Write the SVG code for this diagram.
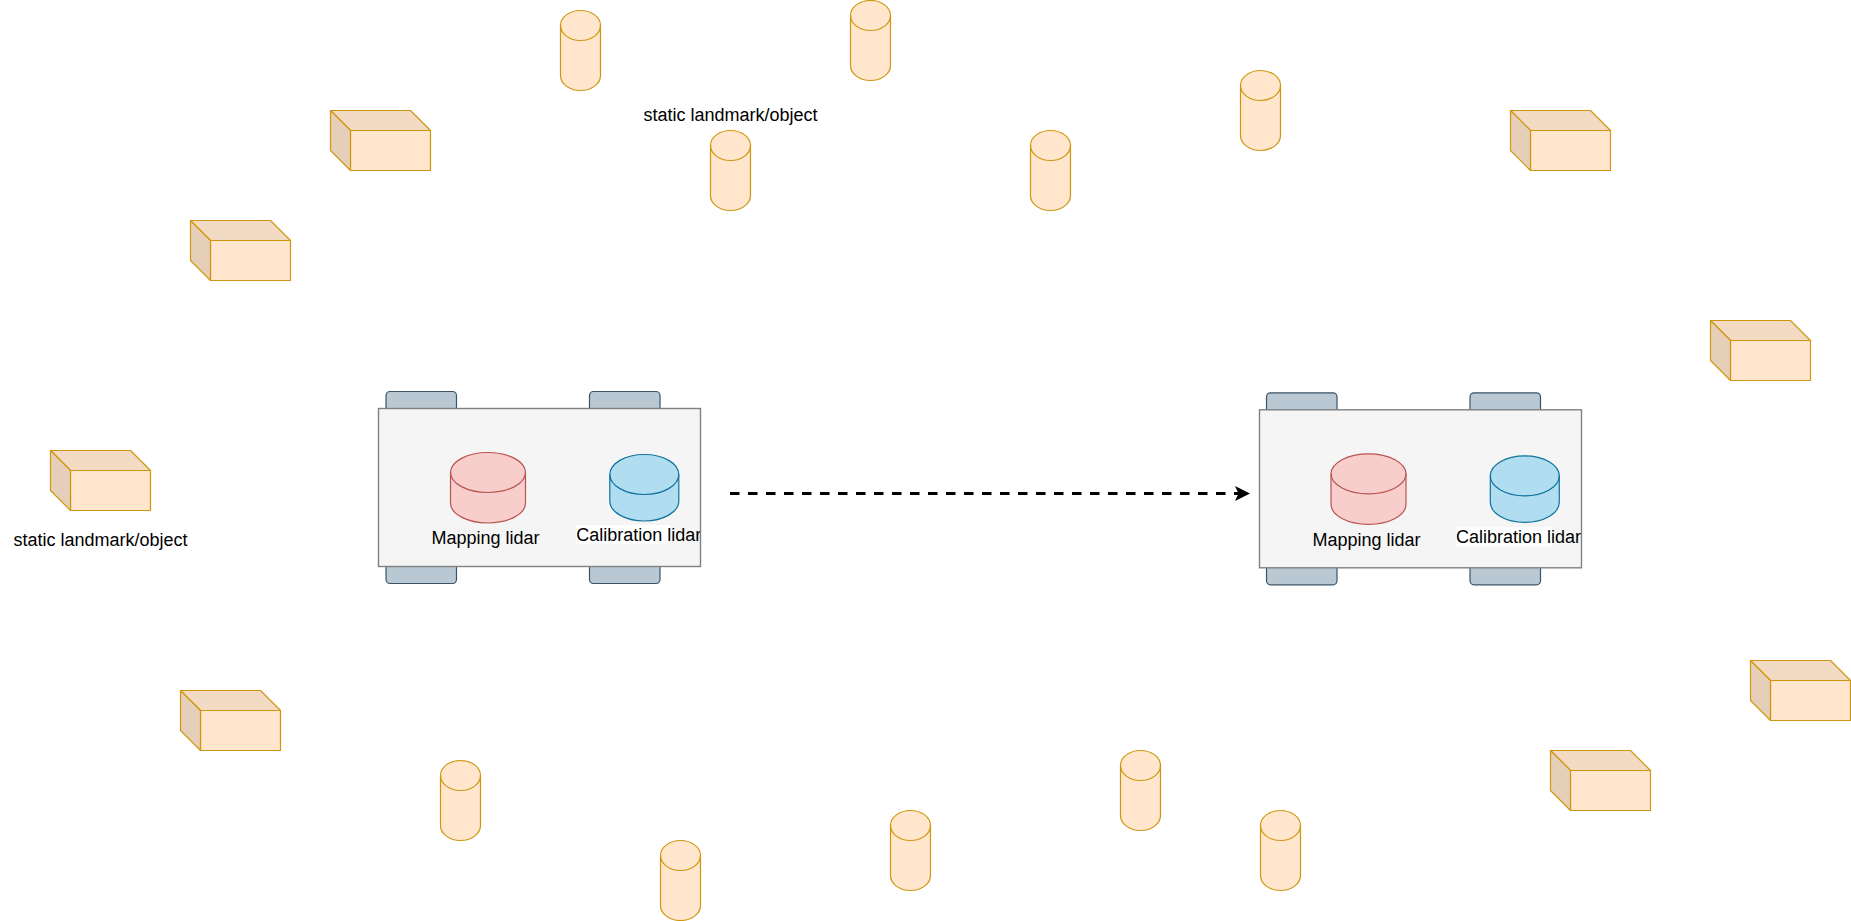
<svg xmlns="http://www.w3.org/2000/svg" width="1851" height="921" viewBox="0 0 1851 921">
<style>
text{font-family:"Liberation Sans",Arial,sans-serif;font-size:18px;fill:#000}
.o{fill:#ffe6cc;stroke:#cf9710;stroke-width:1.2;stroke-linejoin:round}
.ot{fill:#f2dbc2;stroke:#cf9710;stroke-width:1.2;stroke-linejoin:round}
.ol{fill:#e6cfb8;stroke:#cf9710;stroke-width:1.2;stroke-linejoin:round}
.wheel{fill:#bac8d3;stroke:#3a5568;stroke-width:1.2}
.body{fill:#f5f5f5;stroke:#808080;stroke-width:1.4}
.red{fill:#f8cecc;stroke:#b85450;stroke-width:1.2}
.blue{fill:#b1ddf0;stroke:#10739e;stroke-width:1.2}
.lbg{fill:#ffffff}
.arrow{fill:none;stroke:#000;stroke-width:3.2;stroke-dasharray:9.5 8.5}
</style>
<defs>
<g id="cyl">
<path class="o" d="M0 15A20 15 0 0 1 40 15V65A20 15 0 0 1 0 65Z"/>
<path class="o" style="fill:none" d="M0 15A20 15 0 0 0 40 15"/>
</g>
<g id="box">
<rect class="o" x="20" y="20" width="80" height="40"/>
<path class="ot" d="M0 0H80L100 20H20Z"/>
<path class="ol" d="M0 0L20 20V60L0 40Z"/>
</g>
<g id="wheels">
<rect class="wheel" x="7.500" y="-17" width="70.500" height="40" rx="4"/>
<rect class="wheel" x="211" y="-17" width="70.500" height="40" rx="4"/>
<rect class="wheel" x="7.500" y="135" width="70.500" height="40" rx="4"/>
<rect class="wheel" x="211" y="135" width="70.500" height="40" rx="4"/>
</g>
<g id="lidar-red">
<path class="red" d="M0 20A37.500 20 0 0 1 75 20V50.500A37.500 20 0 0 1 0 50.500Z"/>
<path class="red" style="fill:none" d="M0 20A37.500 20 0 0 0 75 20"/>
</g>
<g id="lidar-blue">
<path class="blue" d="M0 20A34.500 20 0 0 1 69 20V46.500A34.500 20 0 0 1 0 46.500Z"/>
<path class="blue" style="fill:none" d="M0 20A34.500 20 0 0 0 69 20"/>
</g>
<marker id="head" markerUnits="userSpaceOnUse" markerWidth="17" markerHeight="17" refX="15" refY="8" orient="auto">
<path d="M0 .5L15 8L0 15.500L3.500 8Z" fill="#000"/>
</marker>
<clipPath id="clip1"><rect x="570" y="520" width="130" height="30"/></clipPath>
<clipPath id="clip2"><rect x="1450" y="520" width="131" height="30"/></clipPath>
</defs>

<g id="connectors">
<path class="arrow" d="M730 493.500H1250" marker-end="url(#head)"/>
</g>

<g id="car-1">
<use href="#wheels" x="378.500" y="408.500"/>
<rect class="body" x="378.500" y="408.500" width="322" height="158"/>
<use href="#lidar-red" x="450.500" y="452.500"/>
<use href="#lidar-blue" x="609.800" y="454.500"/>
<text x="431.500" y="544">Mapping lidar</text>
<rect class="lbg" x="576" y="525" width="94" height="19"/>
<text x="576.200" y="541" clip-path="url(#clip1)">Calibration lidar</text>
</g>

<g id="car-2">
<use href="#wheels" x="1259" y="409.800"/>
<rect class="body" x="1259.500" y="409.800" width="322" height="158"/>
<use href="#lidar-red" x="1331" y="453.800"/>
<use href="#lidar-blue" x="1490.300" y="455.800"/>
<text x="1312.500" y="546.300">Mapping lidar</text>
<rect class="lbg" x="1456" y="527.300" width="96" height="19"/>
<text x="1456" y="543.300" clip-path="url(#clip2)">Calibration lidar</text>
</g>

<g id="cyl-1"><use href="#cyl" x="560.500" y="10.500"/></g>
<g id="cyl-2"><use href="#cyl" x="850.500" y="0.500"/></g>
<g id="cyl-3"><use href="#cyl" x="710.500" y="130.500"/></g>
<g id="cyl-4"><use href="#cyl" x="1030.500" y="130.500"/></g>
<g id="cyl-5"><use href="#cyl" x="1240.500" y="70.500"/></g>
<g id="cyl-6"><use href="#cyl" x="440.500" y="760.500"/></g>
<g id="cyl-7"><use href="#cyl" x="660.500" y="840.500"/></g>
<g id="cyl-8"><use href="#cyl" x="890.500" y="810.500"/></g>
<g id="cyl-9"><use href="#cyl" x="1120.500" y="750.500"/></g>
<g id="cyl-10"><use href="#cyl" x="1260.500" y="810.500"/></g>

<g id="box-1"><use href="#box" x="330.500" y="110.500"/></g>
<g id="box-2"><use href="#box" x="190.500" y="220.500"/></g>
<g id="box-3"><use href="#box" x="50.500" y="450.500"/></g>
<g id="box-4"><use href="#box" x="180.500" y="690.500"/></g>
<g id="box-5"><use href="#box" x="1510.500" y="110.500"/></g>
<g id="box-6"><use href="#box" x="1710.500" y="320.500"/></g>
<g id="box-7"><use href="#box" x="1750.500" y="660.500"/></g>
<g id="box-8"><use href="#box" x="1550.500" y="750.500"/></g>

<g id="label-top"><text x="643.500" y="121">static landmark/object</text></g>
<g id="label-left"><text x="13.500" y="546">static landmark/object</text></g>
</svg>
